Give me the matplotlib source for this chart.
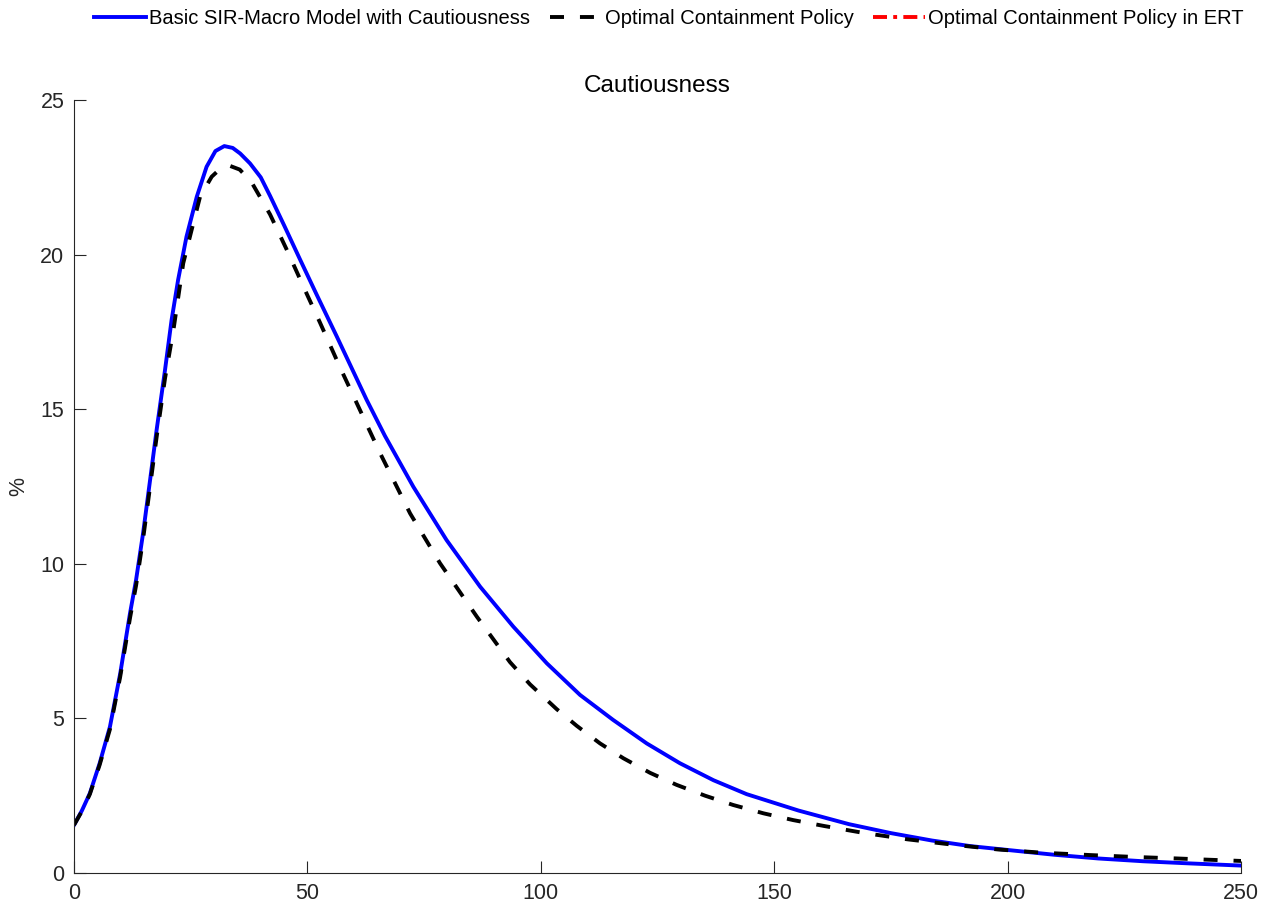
import matplotlib
matplotlib.use('Agg')
import matplotlib.pyplot as plt

plt.rcParams['font.family'] = ['Liberation Sans', 'DejaVu Sans']

# Время (дни) и доля инфицированных (%)
t_basic = [0, 1.7, 3.4, 5.5, 7.7, 9.9, 12, 13.3, 14.8, 16.3, 17.7, 19.5, 20.9, 22.3, 24.1,
           26.3, 28.4, 30.3, 32.2, 34, 35.6, 37.7, 40, 42, 45, 48.4, 52, 56.3, 62.7, 66.6,
           72.7, 79.8, 87, 94.1, 101.3, 108.4, 115.5, 122.7, 129.8, 137, 144.1, 155.2, 166,
           175, 183.8, 192, 201.6, 210, 219.4, 229, 239, 250]
y_basic = [1.55, 2.02, 2.58, 3.55, 4.73, 6.45, 8.4, 9.48, 10.99, 12.71, 14.33, 16.27, 17.88,
           19.18, 20.58, 21.87, 22.84, 23.35, 23.51, 23.45, 23.27, 22.95, 22.5, 21.9, 20.95,
           19.85, 18.7, 17.35, 15.3, 14.14, 12.49, 10.77, 9.26, 7.97, 6.78, 5.76, 4.95, 4.19,
           3.55, 3.0, 2.55, 2.02, 1.58, 1.29, 1.05, 0.87, 0.72, 0.59, 0.47, 0.38, 0.31, 0.24]

t_opt = [0, 1.7, 3.4, 5.5, 7.7, 9.9, 12, 13.3, 14.8, 16.3, 17.7, 19.5, 21.3, 23.4, 25.2, 27,
         29.5, 31.5, 33.4, 35.5, 38, 42, 45.6, 49.8, 52.7, 57, 65.6, 72, 78.4, 86.3, 93.4,
         97.7, 103.4, 107.7, 112.7, 117.7, 123.4, 129.1, 135.2, 141.2, 147.7, 154.1, 160.7,
         169, 178.5, 188, 198, 207, 217.7, 227, 236.3, 243, 250]
y_opt = [1.55, 2.0, 2.55, 3.5, 4.65, 6.35, 8.25, 9.3, 10.8, 12.5, 14.1, 16.0, 17.56, 19.72,
         20.8, 21.87, 22.52, 22.8, 22.87, 22.75, 22.35, 21.3, 20.15, 18.75, 17.8, 16.35,
         13.57, 11.63, 10.02, 8.29, 6.82, 6.1, 5.3, 4.76, 4.19, 3.71, 3.24, 2.85, 2.5,
         2.2, 1.93, 1.71, 1.52, 1.3, 1.09, 0.92, 0.76, 0.66, 0.58, 0.52, 0.47, 0.43, 0.39]

# Кривая ERT на картинке не видна, остаётся только в легенде
t_ert = []
y_ert = []

labels = ['Basic SIR-Macro Model with Cautiousness',
          'Optimal Containment Policy',
          'Optimal Containment Policy in ERT']

fig = plt.figure(figsize=(12.63, 9.06), dpi=100)
ax = fig.add_axes([74 / 1263, 33 / 906, 1167 / 1263, 773 / 906])

ax.plot(t_basic, y_basic, color='#0000ff', lw=2.8, label=labels[0])
ax.plot(t_opt, y_opt, color='black', lw=2.8, linestyle=(0, (3.6, 4.1)), label=labels[1])
ax.plot(t_ert, y_ert, color='red', lw=2.8, linestyle=(0, (3.6, 1.6, 1.0, 1.6)), label=labels[2])

ax.set_xlim(0, 250)
ax.set_ylim(0, 25)
ax.set_xticks([0, 50, 100, 150, 200, 250])
ax.set_yticks([0, 5, 10, 15, 20, 25])

for side in ['top', 'right']:
    ax.spines[side].set_visible(False)
for side in ['left', 'bottom']:
    ax.spines[side].set_color('#262626')
    ax.spines[side].set_linewidth(0.8)

ax.tick_params(direction='in', length=8.6, width=0.8, color='#262626',
               labelcolor='#262626', labelsize=15.5, pad=7)

ax.set_title('Cautiousness', fontsize=17.5, color='black', pad=6)
ax.set_ylabel('%', fontsize=15.5, color='#262626', labelpad=8)

fig.legend(loc='center', bbox_to_anchor=(0.5297, 0.980), ncol=3, frameon=False,
           fontsize=14.5, handlelength=2.6, handletextpad=0.15, columnspacing=0.95)

fig.savefig('out.png', dpi=100)
